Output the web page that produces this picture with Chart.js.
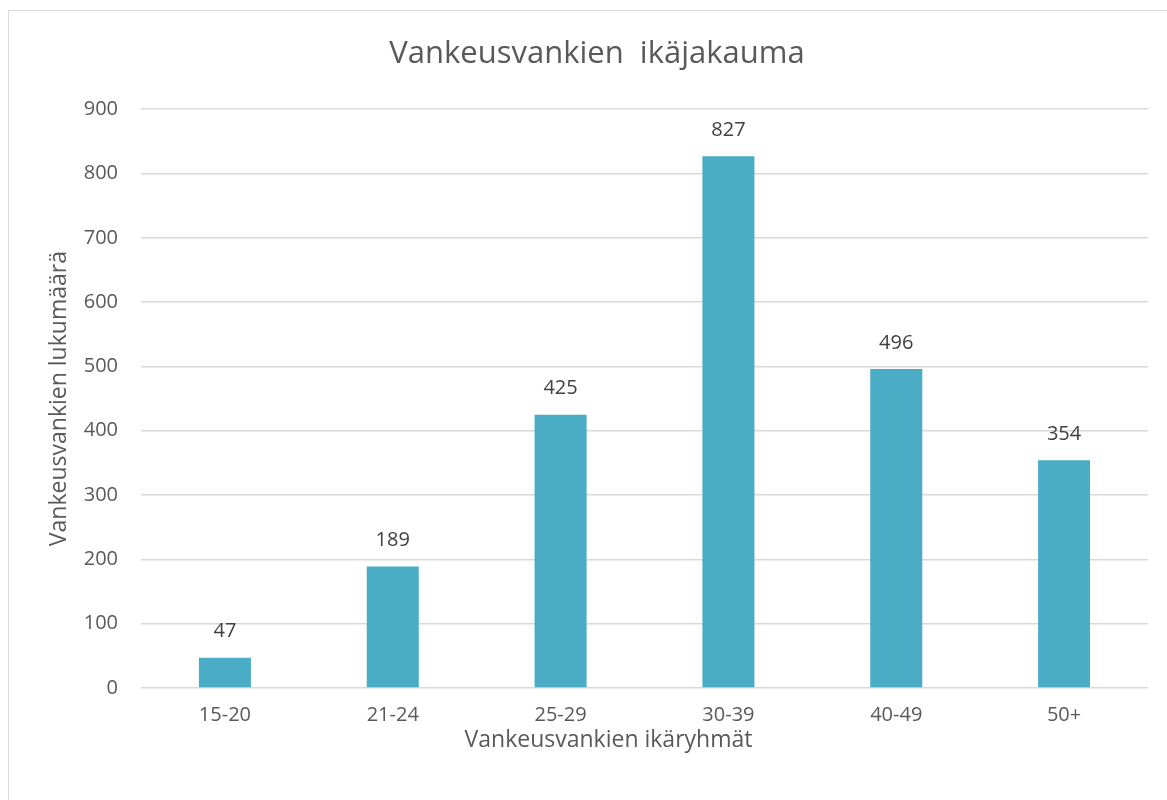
<!DOCTYPE html>
<html>
<head>
<meta charset="utf-8">
<script src="https://cdn.jsdelivr.net/npm/chart.js@4.4.1/dist/chart.umd.min.js"></script>
<style>
  html, body { margin: 0; padding: 0; background: #fff; overflow: hidden; }
  #frame { position: absolute; left: 8px; top: 10px; width: 1200px; height: 820px; border: 1px solid #d9d9d9; }
  #wrap { position: absolute; left: 0; top: 0; width: 1167px; height: 800px; }
</style>
</head>
<body>
<div id="frame"></div>
<div id="wrap"><canvas id="chart"></canvas></div>
<script>
// ikäryhmät ja vankimäärät
const ageGroups = ['15-20', '21-24', '25-29', '30-39', '40-49', '50+'];
const prisoners = [47, 189, 425, 827, 496, 354];
const yMin = 0;
const yMax = 900;
const yStep = 100;

const FONT = "'Open Sans', sans-serif";
const TEXT = '#595959';

// arvot palkkien yläpuolelle + x-akselin otsikko (hieman vasemmalla kuten alkuperäisessä)
const extraText = {
    id: 'extraText',
    afterDatasetsDraw(chart) {
        const ctx = chart.ctx;
        const meta = chart.getDatasetMeta(0);
        ctx.save();
        ctx.font = '20px ' + FONT;
        ctx.fillStyle = '#404040';
        ctx.textAlign = 'center';
        ctx.textBaseline = 'middle';
        meta.data.forEach((bar, i) => {
            ctx.fillText(String(prisoners[i]), bar.x, bar.y - 26);
        });

        const xs = chart.scales.x;
        ctx.font = '23px ' + FONT;
        ctx.fillStyle = TEXT;
        ctx.fillText('Vankeusvankien ikäryhmät', (xs.left + xs.right) / 2 - 36, xs.bottom - 13);
        ctx.restore();
    }
};

new Chart(document.getElementById('chart'), {
    type: 'bar',
    data: {
        labels: ageGroups,
        datasets: [{
            data: prisoners,
            backgroundColor: '#4bacc6',
            borderWidth: 0,
            categoryPercentage: 1,
            barPercentage: 0.31
        }]
    },
    options: {
        responsive: true,
        maintainAspectRatio: false,
        animation: false,
        layout: { padding: { left: 46, right: 19, top: 10, bottom: 47 } },
        plugins: {
            legend: { display: false },
            tooltip: { enabled: false },
            title: {
                display: true,
                text: 'Vankeusvankien  ikäjakauma',
                color: TEXT,
                font: { family: FONT, size: 31, weight: 'normal' },
                padding: { top: 26, bottom: 36 }
            }
        },
        scales: {
            x: {
                grid: { display: false, drawTicks: false },
                border: { display: false },
                ticks: { color: TEXT, font: { family: FONT, size: 20 }, padding: 15 },
                afterFit(scale) { scale.height = 65; }
            },
            y: {
                min: yMin,
                max: yMax,
                ticks: { stepSize: yStep, color: TEXT, font: { family: FONT, size: 20 }, padding: 23 },
                grid: { color: '#d9d9d9', lineWidth: 1.5, drawTicks: false },
                border: { display: false },
                title: {
                    display: true,
                    text: 'Vankeusvankien lukumäärä',
                    color: TEXT,
                    font: { family: FONT, size: 23 },
                    padding: 0
                },
                afterFit(scale) { scale.width = 95; }
            }
        }
    },
    plugins: [extraText]
});
</script>
</body>
</html>
